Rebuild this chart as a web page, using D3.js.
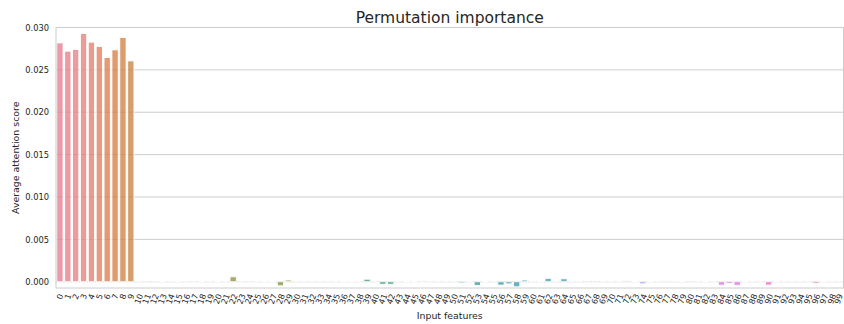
<!DOCTYPE html>
<html>
<head>
<meta charset="utf-8">
<script src="https://cdn.jsdelivr.net/npm/d3@7/dist/d3.min.js"></script>
<style>
  html, body { margin: 0; padding: 0; background: #fff; }
  svg { display: block; font-family: "DejaVu Sans", sans-serif; }
</style>
</head>
<body>
<svg id="chart" width="844" height="324"></svg>
<script>
// Feature indices 0..99
const features = d3.range(100).map(String);

// Average attention score per input feature
const scores = [
  0.02818, 0.02721, 0.02741, 0.02929, 0.02827, 0.02776, 0.02646, 0.02736, 0.02882, 0.02606,
  0.00001, 0.000005, -0.000005, 0.00005, 0.00001, 0.00005, 0.00001, -0.00001, 0.00005, 0.00001,
  0.00003, 0.00001, 0.00058, 0.00001, -0.00001, 0.00002, 0.00005, 0.00009, -0.00048, 0.00020,
  0.00001, 0.00001, 0.00001, 0.00001, 0.00001, 0.00002, 0.00003, 0.00003, 0.00002, 0.00030,
  0.00001, -0.00030, -0.00030, 0.00001, 0.00004, 0.00005, -0.00010, 0.00001, 0.00001, 0.00001,
  0.00001, -0.00015, 0.00002, -0.00045, 0.00003, 0.00001, -0.00040, -0.00025, -0.00060, 0.00020,
  0.00001, 0.00005, 0.00040, 0.00002, 0.00035, 0.00001, 0.00001, -0.00008, -0.00012, 0.00001,
  0.00001, 0.00001, 0.00015, 0.00005, -0.00025, 0.00003, 0.00001, 0.00012, 0.00001, 0.00008,
  -0.00012, 0.00001, 0.00005, 0.00001, -0.00040, -0.00020, -0.00042, 0.00006, 0.00001, 0.00001,
  -0.00040, 0.00005, 0.00001, 0.00001, 0.00001, 0.00001, -0.00020, 0.00006, 0.00001, 0.00001
];

const yTicks = [0, 0.005, 0.010, 0.015, 0.020, 0.025, 0.030];

const titleText = "Permutation importance";
const xLabel = "Input features";
const yLabel = "Average attention score";

// ---- HUSL colour space (same maths as the husl 2.x reference implementation) ----
const M = [
  [3.2406, -1.5372, -0.4986],
  [-0.9689, 1.8758, 0.0415],
  [0.0557, -0.2040, 1.0570]
];
const refU = 0.19784, refV = 0.46834, labE = 0.008856, labK = 903.3;

function maxChroma(L, H) {
  const hrad = H * Math.PI / 180;
  const sinH = Math.sin(hrad), cosH = Math.cos(hrad);
  const sub1 = Math.pow(L + 16, 3) / 1560896.0;
  const sub2 = sub1 > 0.008856 ? sub1 : L / 903.3;
  let result = Infinity;
  for (const [m1, m2, m3] of M) {
    const top = (0.99915 * m1 + 1.05122 * m2 + 1.14460 * m3) * sub2;
    const rbottom = 0.86330 * m3 - 0.17266 * m2;
    const lbottom = 0.12949 * m3 - 0.38848 * m1;
    const bottom = (rbottom * sinH + lbottom * cosH) * sub2;
    for (const t of [0, 1]) {
      const C = L * (top - 1.05122 * t) / (bottom + 0.17266 * sinH * t);
      if (C > 0 && C < result) result = C;
    }
  }
  return result;
}
function fInv(t) { return Math.pow(t, 3) > labE ? Math.pow(t, 3) : (116 * t - 16) / labK; }
function fromLinear(c) { return c <= 0.0031308 ? 12.92 * c : 1.055 * Math.pow(c, 1 / 2.4) - 0.055; }
function huslToRgb(H, S, L) {
  const C = maxChroma(L, H) / 100 * S;
  const hr = H * Math.PI / 180;
  const U = Math.cos(hr) * C, V = Math.sin(hr) * C;
  const varY = fInv((L + 16) / 116);
  const varU = U / (13 * L) + refU;
  const varV = V / (13 * L) + refV;
  const Y = varY;
  const X = -(9 * Y * varU) / ((varU - 4) * varV - varU * varV);
  const Z = (9 * Y - 15 * varV * Y - varV * X) / (3 * varV);
  return M.map(r => Math.min(1, Math.max(0, fromLinear(r[0] * X + r[1] * Y + r[2] * Z))));
}
function huslPalette(n, h = 0.01, s = 0.9, l = 0.65) {
  return d3.range(n).map(i => {
    const hue = ((i / n + h) % 1) * 359;
    const [r, g, b] = huslToRgb(hue, s * 99, l * 99);
    // bars are drawn with 75% of the palette saturation
    const c = d3.hsl(d3.rgb(r * 255, g * 255, b * 255));
    c.s *= 0.75;
    return c.formatHex();
  });
}
const colors = huslPalette(features.length);

// ---- layout ----
const svg = d3.select("#chart");
const plot = { left: 56, right: 843.5, top: 27.5, bottom: 288 };
const gridColor = "#cccccc";
const textColor = "#262626";

const x = d3.scaleBand()
  .domain(features)
  .range([plot.left, plot.right])
  .paddingInner(0.2)
  .paddingOuter(0.1);

const y = d3.scaleLinear()
  .domain([-0.00074, 0.030])
  .range([plot.bottom, plot.top]);

// horizontal grid
svg.append("g")
  .selectAll("line")
  .data(yTicks)
  .join("line")
  .attr("x1", plot.left).attr("x2", plot.right)
  .attr("y1", d => y(d)).attr("y2", d => y(d))
  .attr("stroke", gridColor).attr("stroke-width", 1);

// bars
svg.append("g")
  .selectAll("rect")
  .data(features)
  .join("rect")
  .attr("x", d => x(d))
  .attr("width", x.bandwidth())
  .attr("y", (d, i) => y(Math.max(0, scores[i])))
  .attr("height", (d, i) => Math.abs(y(scores[i]) - y(0)))
  .attr("fill", (d, i) => colors[i])
  .attr("fill-opacity", 0.8)
  .attr("stroke", "#ffffff")
  .attr("stroke-width", 0.9);

// frame
svg.append("rect")
  .attr("x", plot.left).attr("y", plot.top)
  .attr("width", plot.right - plot.left).attr("height", plot.bottom - plot.top)
  .attr("fill", "none").attr("stroke", gridColor).attr("stroke-width", 1);

// y axis tick labels
const yAxis = d3.axisLeft(y).tickValues(yTicks).tickFormat(d3.format(".3f")).tickSize(0).tickPadding(7);
const yG = svg.append("g").attr("transform", `translate(${plot.left},0)`).call(yAxis);
yG.select(".domain").remove();
yG.selectAll("text").attr("fill", textColor).style("font-size", "8.3px")
  .style("font-family", "DejaVu Sans, sans-serif");

// x axis tick labels, rotated 70 degrees with their rotated box centred under each bar
const angle = 70 * Math.PI / 180;
const labelTop = 292.5;
const xFont = 8.1;
const xg = svg.append("g");
features.forEach(f => {
  const t = xg.append("text")
    .text(f)
    .attr("fill", textColor)
    .style("font-size", xFont + "px")
    .attr("text-anchor", "middle")
    .attr("dominant-baseline", "central");
  const w = t.node().getComputedTextLength();
  const h = xFont * 1.16;
  const extent = w * Math.sin(angle) + h * Math.cos(angle);
  const cx = Math.min(x(f) + x.bandwidth() / 2, 838.5);
  const cy = labelTop + extent / 2;
  t.attr("transform", `translate(${cx},${cy}) rotate(-70)`);
});

// axis titles
svg.append("text")
  .attr("x", (plot.left + plot.right) / 2).attr("y", 318.5)
  .attr("text-anchor", "middle").attr("fill", textColor)
  .style("font-size", "9.4px").text(xLabel);

svg.append("text")
  .attr("transform", `translate(19,${(plot.top + plot.bottom) / 2}) rotate(-90)`)
  .attr("text-anchor", "middle").attr("fill", textColor)
  .style("font-size", "9.4px").text(yLabel);

// chart title
svg.append("text")
  .attr("x", (plot.left + plot.right) / 2).attr("y", 22.5)
  .attr("text-anchor", "middle").attr("fill", textColor)
  .style("font-size", "15.5px").text(titleText);
</script>
</body>
</html>
